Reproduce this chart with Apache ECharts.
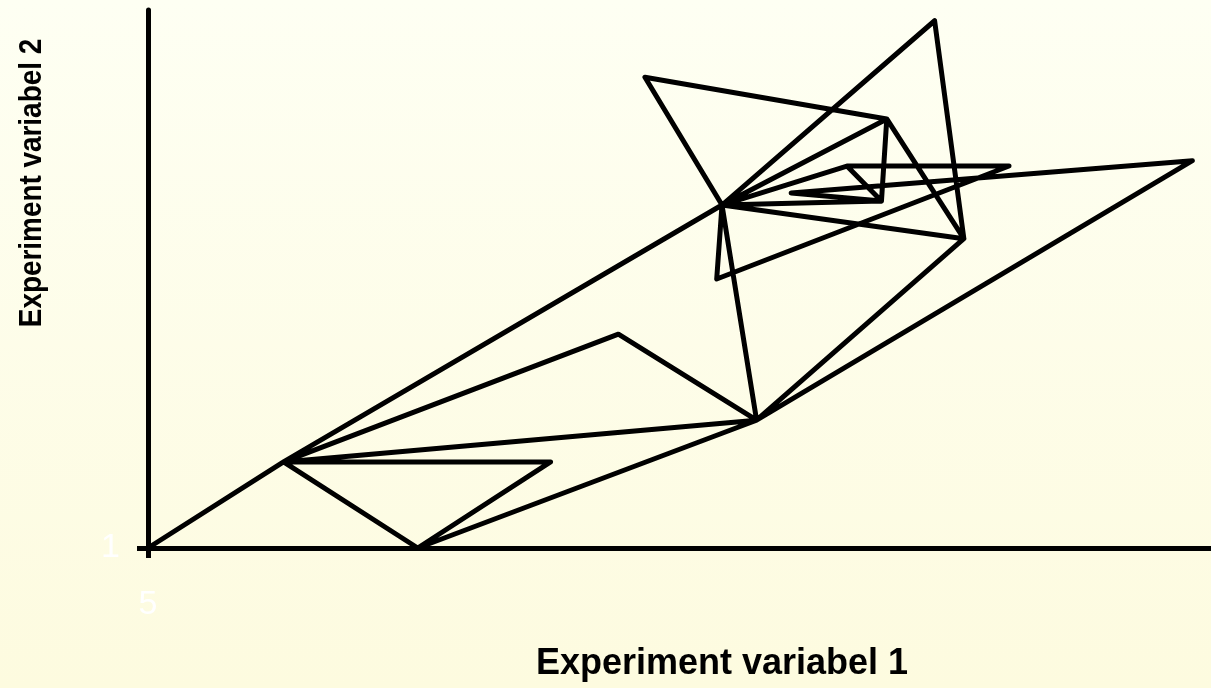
<!DOCTYPE html>
<html>
<head>
<meta charset="utf-8">
<script src="https://cdn.jsdelivr.net/npm/echarts@6/dist/echarts.min.js"></script>
<style>
  html, body { margin: 0; padding: 0; }
  #chart { width: 1211px; height: 688px; }
</style>
</head>
<body>
<div id="chart"></div>
<script>
// measurements in the order they were taken (path through the plane)
const var1 = [5, 10.1, 26.6, 23.7, 32.8, 26.6, 34.6, 35.7, 26.6, 31.3, 37.4, 26.4, 26.6, 31.3, 32.6,
  32.8, 35.7, 27.9, 26.6, 32.6, 29.2, 44.3, 27.9, 22.7, 10.1, 27.9, 15.15, 10.1, 20.15, 15.15];
const var2 = [1, 4.2, 13.75, 18.5, 16.95, 13.75, 20.6, 12.5, 13.75, 15.2, 15.2, 11.0, 13.75, 15.2, 13.9,
  16.95, 12.5, 5.75, 13.75, 13.9, 14.2, 15.4, 5.75, 8.95, 4.2, 5.75, 1, 4.2, 4.2, 1];
const xTicks = [5];
const yTicks = [1];
const xName = 'Experiment variabel 1';
const yName = 'Experiment variabel 2';

const chart = echarts.init(document.getElementById('chart'), null, { renderer: 'canvas' });

const points = var1.map((x, i) => [x, var2[i]]);

chart.setOption({
  animation: false,
  backgroundColor: new echarts.graphic.LinearGradient(0, 0, 0, 1, [
    { offset: 0, color: '#fefff3' },
    { offset: 1, color: '#fdfbdf' },
  ]),
  textStyle: { fontFamily: 'Liberation Sans, Arial, sans-serif' },
  grid: { left: 148, right: 0, top: 10, bottom: 140 },
  xAxis: {
    type: 'value',
    min: 5,
    max: 45,
    axisLine: { onZero: false, lineStyle: { color: '#000', width: 5 } },
    axisTick: { customValues: xTicks, length: 10, lineStyle: { color: '#000', width: 5 } },
    axisLabel: { customValues: xTicks, color: '#fff', fontSize: 34, margin: 40 },
    splitLine: { show: false },
  },
  yAxis: {
    type: 'value',
    min: 1,
    max: 21,
    axisLine: { show: true, onZero: false, lineStyle: { color: '#000', width: 5 } },
    axisTick: { show: true, customValues: yTicks, length: 11, lineStyle: { color: '#000', width: 5 } },
    axisLabel: { customValues: yTicks, color: '#fff', fontSize: 34, margin: 28 },
    splitLine: { show: false },
  },
  graphic: [
    {
      type: 'text',
      x: 722,
      y: 664,
      style: {
        text: xName,
        fill: '#000',
        font: 'bold 36px "Liberation Sans", Arial, sans-serif',
        textAlign: 'center',
        textVerticalAlign: 'middle',
      },
    },
    {
      type: 'text',
      x: 32,
      y: 183,
      rotation: Math.PI / 2,
      scaleX: 0.9,
      style: {
        text: yName,
        fill: '#000',
        font: 'bold 31px "Liberation Sans", Arial, sans-serif',
        textAlign: 'center',
        textVerticalAlign: 'middle',
      },
    },
  ],
  series: [
    {
      type: 'line',
      data: points,
      showSymbol: false,
      symbol: 'none',
      lineStyle: { color: '#000', width: 5, join: 'round', cap: 'round' },
      z: 3,
    },
  ],
});
</script>
</body>
</html>
